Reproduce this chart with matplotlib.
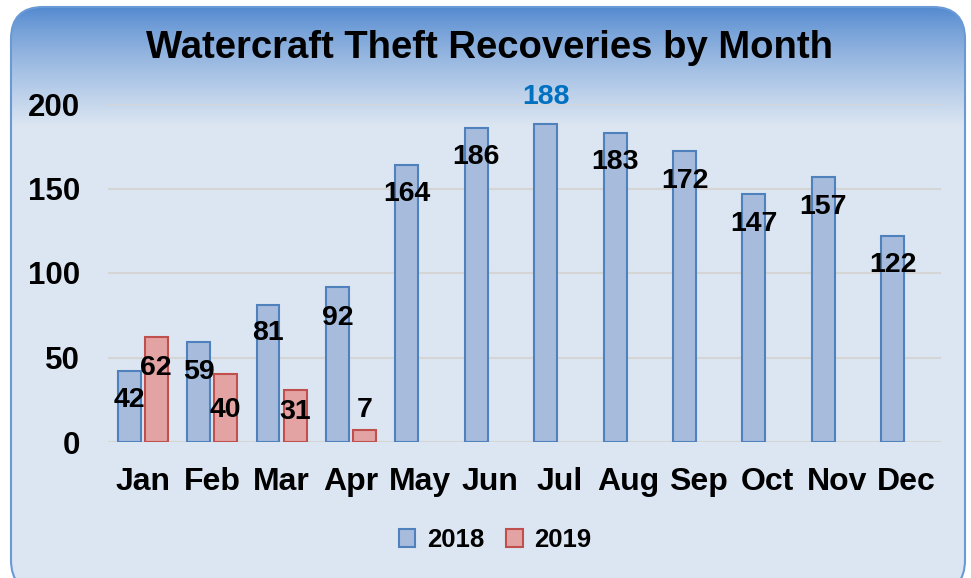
import numpy as np
import matplotlib
matplotlib.use("Agg")
import matplotlib.pyplot as plt
from matplotlib.patches import FancyBboxPatch, Patch

# data
months = ["Jan", "Feb", "Mar", "Apr", "May", "Jun", "Jul", "Aug", "Sep", "Oct", "Nov", "Dec"]
rec_2018 = [42, 59, 81, 92, 164, 186, 188, 183, 172, 147, 157, 122]
rec_2019 = [62, 40, 31, 7]
yticks = [0, 50, 100, 150, 200]

# label placement (data units, relative to bar top)
lab_off_2018 = [-17, -17.5, -16.5, -18.5, -17, -17.5, 16, -17.5, -17.5, -18, -18, -17.5]
lab_off_2019 = [-18, -21, -13, 12]

plt.rcParams["font.family"] = ["Liberation Sans", "DejaVu Sans"]
plt.rcParams["font.weight"] = "bold"

W, H = 971, 578
fig = plt.figure(figsize=(W / 100, H / 100), dpi=100)
fig.patch.set_facecolor("white")

# rounded background with gradient (pixel coords, y up)
bg = fig.add_axes([0, 0, 1, 1], zorder=0)
bg.set_xlim(0, W)
bg.set_ylim(0, H)
bg.axis("off")
top = np.array([0x4F, 0x87, 0xCF]) / 255
bot = np.array([0xDC, 0xE6, 0xF2]) / 255
yy = np.arange(H)  # from top of image
t = np.clip((yy - 6) / 120, 0, 1) ** 0.8
grad = top[None, :] * (1 - t[:, None]) + bot[None, :] * t[:, None]
img = np.repeat(grad[:, None, :], 2, axis=1)
im = bg.imshow(img, extent=[0, W, 0, H], origin="upper", aspect="auto")
box = FancyBboxPatch((11, -14), W - 17, H - 7 + 14, boxstyle="round,pad=0,rounding_size=32",
                     facecolor="none", edgecolor="#6A9AD6", lw=1.5)
bg.add_patch(box)
im.set_clip_path(box)

ax = fig.add_axes([108 / W, 1 - 442 / H, (941 - 108) / W, (442 - 104) / H], zorder=1)
ax.patch.set_alpha(0)
x = np.arange(len(months))
off, bw = 0.195, 0.33
ax.bar(x - off, rec_2018, bw, color="#A7BCDD", edgecolor="#4F81BD", lw=1.5, zorder=3)
x19 = x[:len(rec_2019)]
ax.bar(x19 + off, rec_2019, bw, color="#E3A3A3", edgecolor="#C0504D", lw=1.5, zorder=3)

for xi, v, d in zip(x, rec_2018, lab_off_2018):
    col = "#0070C0" if v == max(rec_2018) else "black"
    ax.text(xi - off, v + d, str(v), ha="center", va="center", fontsize=20.5,
            fontweight="bold", color=col, zorder=5, clip_on=False)
for xi, v, d in zip(x19, rec_2019, lab_off_2019):
    ax.text(xi + off, v + d, str(v), ha="center", va="center", fontsize=20.5,
            fontweight="bold", color="black", zorder=5)

ax.set_xlim(-0.5, 11.5)
ax.set_ylim(0, 200)
ax.set_yticks(yticks)
ax.set_xticks(x, months)
ax.grid(axis="y", color="#D5D5D5", lw=1.5, zorder=0)
ax.set_axisbelow(True)
for s in ax.spines.values():
    s.set_visible(False)
ax.tick_params(axis="y", length=0, pad=20, labelsize=22.5)
ax.tick_params(axis="x", length=0, pad=18, labelsize=23)

fig.text(490 / W, 1 - 48 / H, "Watercraft Theft Recoveries by Month", ha="center", va="center",
         fontsize=27.5, fontweight="bold")

handles = [Patch(facecolor="#A7BCDD", edgecolor="#4F81BD", lw=1.5, label="2018"),
           Patch(facecolor="#E3A3A3", edgecolor="#C0504D", lw=1.5, label="2019")]
fig.legend(handles=handles, loc="center", bbox_to_anchor=(495 / W, 1 - 540 / H), ncol=2,
           frameon=False, fontsize=18.5, handlelength=0.65, handleheight=0.65,
           handletextpad=0.45, columnspacing=0.85)

fig.savefig("out.png", dpi=100)
